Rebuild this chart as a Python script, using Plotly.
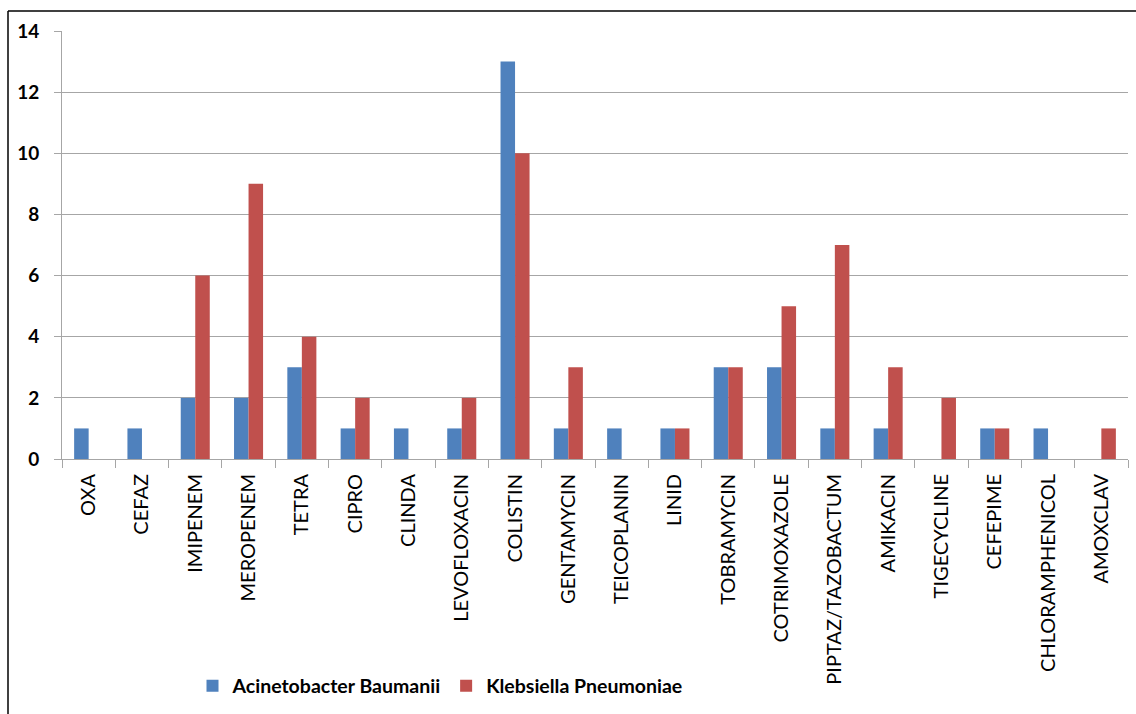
import plotly.graph_objects as go

antibiotics = ["OXA", "CEFAZ", "IMIPENEM", "MEROPENEM", "TETRA", "CIPRO", "CLINDA",
               "LEVOFLOXACIN", "COLISTIN", "GENTAMYCIN", "TEICOPLANIN", "LINID",
               "TOBRAMYCIN", "COTRIMOXAZOLE", "PIPTAZ/TAZOBACTUM", "AMIKACIN",
               "TIGECYCLINE", "CEFEPIME", "CHLORAMPHENICOL", "AMOXCLAV"]
acinetobacter = [1, 1, 2, 2, 3, 1, 1, 1, 13, 1, 1, 1, 3, 3, 1, 1, 0, 1, 1, 0]
klebsiella = [0, 0, 6, 9, 4, 2, 0, 2, 10, 3, 0, 1, 3, 5, 7, 3, 2, 1, 0, 1]

W, H = 1136, 714
L, R, T, B = 62, 8, 31, 255
pw, ph = W - L - R, H - T - B

def px_x(px):
    return (px - L) / pw

def px_y(py):
    return (H - B - py) / ph

font_family = "Lato, 'Open Sans', Arial, sans-serif"

fig = go.Figure()
fig.add_trace(go.Bar(x=antibiotics, y=acinetobacter, name="Acinetobacter Baumanii",
                     marker=dict(color="#4F81BD", line=dict(width=0))))
fig.add_trace(go.Bar(x=antibiotics, y=klebsiella, name="Klebsiella Pneumoniae",
                     marker=dict(color="#C0504D", line=dict(width=0))))

# outer frame (left and top edges)
fig.add_shape(type="line", xref="paper", yref="paper",
              x0=px_x(8), x1=px_x(8), y0=px_y(11), y1=px_y(H + 5),
              line=dict(color="black", width=1.5))
fig.add_shape(type="line", xref="paper", yref="paper",
              x0=px_x(8), x1=px_x(W + 5), y0=px_y(11), y1=px_y(11),
              line=dict(color="black", width=1.5))

fig.update_layout(
    width=W, height=H,
    margin=dict(l=L, r=R, t=T, b=B, autoexpand=False),
    paper_bgcolor="white", plot_bgcolor="white",
    barmode="group", bargap=0.455, bargroupgap=0,
    font=dict(family=font_family, color="black"),
    showlegend=True,
    legend=dict(orientation="h", x=px_x(440), y=px_y(686), xanchor="center", yanchor="middle",
                font=dict(size=19.5, family=font_family, weight="bold"),
                itemwidth=30, traceorder="normal"),
    xaxis=dict(
        showline=True, linecolor="#A6A6A6", linewidth=1,
        ticks="outside", tickson="boundaries", ticklen=8, tickcolor="#A6A6A6",
        tickangle=-90, tickfont=dict(size=20, family=font_family),
        ticklabelstandoff=6,
        showgrid=False, range=[-0.5, 19.5],
    ),
    yaxis=dict(
        range=[0, 14], dtick=2, showgrid=True, gridcolor="#A6A6A6", gridwidth=1,
        showline=True, linecolor="#A6A6A6", linewidth=1,
        ticks="outside", ticklen=7, tickcolor="#A6A6A6",
        tickfont=dict(size=19, family=font_family, weight="bold"),
        ticklabelstandoff=11,
        zeroline=False,
    ),
)

fig.write_html("out.html")
